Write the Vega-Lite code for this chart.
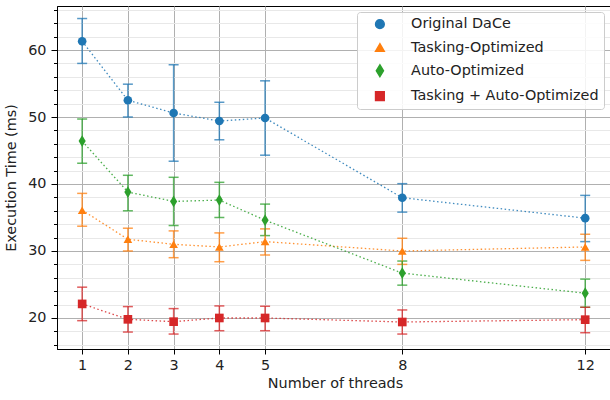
{
  "$schema": "https://vega.github.io/schema/vega-lite/v6.json",
  "width": 556,
  "height": 343,
  "autosize": {"type": "none"},
  "padding": {"left": 57, "top": 6, "right": 0, "bottom": 51},
  "config": {
    "font": "DejaVu Sans",
    "view": {"stroke": "black", "strokeWidth": 1},
    "axis": {
      "labelFont": "DejaVu Sans",
      "titleFont": "DejaVu Sans",
      "labelFontSize": 14.4,
      "titleFontSize": 14.4,
      "titleFontWeight": "normal",
      "labelColor": "#222",
      "titleColor": "#222",
      "domainColor": "black",
      "tickColor": "black",
      "labelPadding": 4,
      "gridColor": "#b0b0b0",
      "gridWidth": 1
    },
    "legend": {
      "labelFont": "DejaVu Sans",
      "labelFontSize": 14.4,
      "labelColor": "#222"
    }
  },
  "data": {
    "values": [
      {"threads": 1, "version": "Original DaCe", "time": 61.3, "lo": 58.0, "hi": 64.7},
      {"threads": 2, "version": "Original DaCe", "time": 52.5, "lo": 50.0, "hi": 54.9},
      {"threads": 3, "version": "Original DaCe", "time": 50.6, "lo": 43.4, "hi": 57.8},
      {"threads": 4, "version": "Original DaCe", "time": 49.4, "lo": 46.6, "hi": 52.2},
      {"threads": 5, "version": "Original DaCe", "time": 49.85, "lo": 44.3, "hi": 55.4},
      {"threads": 8, "version": "Original DaCe", "time": 37.95, "lo": 35.8, "hi": 40.05},
      {"threads": 12, "version": "Original DaCe", "time": 34.9, "lo": 31.4, "hi": 38.3},
      {"threads": 1, "version": "Tasking-Optimized", "time": 36.1, "lo": 33.7, "hi": 38.6},
      {"threads": 2, "version": "Tasking-Optimized", "time": 31.75, "lo": 30.0, "hi": 33.4},
      {"threads": 3, "version": "Tasking-Optimized", "time": 31.0, "lo": 29.0, "hi": 33.0},
      {"threads": 4, "version": "Tasking-Optimized", "time": 30.6, "lo": 28.4, "hi": 32.7},
      {"threads": 5, "version": "Tasking-Optimized", "time": 31.4, "lo": 29.4, "hi": 33.3},
      {"threads": 8, "version": "Tasking-Optimized", "time": 30.0, "lo": 28.0, "hi": 31.9},
      {"threads": 12, "version": "Tasking-Optimized", "time": 30.6, "lo": 28.6, "hi": 32.5},
      {"threads": 1, "version": "Auto-Optimized", "time": 46.4, "lo": 43.1, "hi": 49.7},
      {"threads": 2, "version": "Auto-Optimized", "time": 38.8, "lo": 36.0, "hi": 41.3},
      {"threads": 3, "version": "Auto-Optimized", "time": 37.4, "lo": 33.8, "hi": 41.0},
      {"threads": 4, "version": "Auto-Optimized", "time": 37.6, "lo": 35.0, "hi": 40.25},
      {"threads": 5, "version": "Auto-Optimized", "time": 34.6, "lo": 32.3, "hi": 37.0},
      {"threads": 8, "version": "Auto-Optimized", "time": 26.7, "lo": 24.9, "hi": 28.5},
      {"threads": 12, "version": "Auto-Optimized", "time": 23.7, "lo": 21.6, "hi": 25.8},
      {"threads": 1, "version": "Tasking + Auto-Optimized", "time": 22.1, "lo": 19.6, "hi": 24.6},
      {"threads": 2, "version": "Tasking + Auto-Optimized", "time": 19.8, "lo": 17.9, "hi": 21.7},
      {"threads": 3, "version": "Tasking + Auto-Optimized", "time": 19.45, "lo": 17.6, "hi": 21.4},
      {"threads": 4, "version": "Tasking + Auto-Optimized", "time": 20.0, "lo": 18.1, "hi": 21.8},
      {"threads": 5, "version": "Tasking + Auto-Optimized", "time": 20.0, "lo": 18.1, "hi": 21.75},
      {"threads": 8, "version": "Tasking + Auto-Optimized", "time": 19.4, "lo": 17.6, "hi": 21.2},
      {"threads": 12, "version": "Tasking + Auto-Optimized", "time": 19.75, "lo": 17.8, "hi": 21.6}
    ]
  },
  "encoding": {
    "x": {
      "field": "threads",
      "type": "quantitative",
      "scale": {"domain": [0.45, 12.608], "nice": false, "zero": false},
      "axis": {
        "values": [1, 2, 3, 4, 5, 8, 12],
        "title": "Number of threads",
        "tickSize": 5,
        "titlePadding": 5,
        "grid": true
      }
    },
    "y": {
      "field": "time",
      "type": "quantitative",
      "scale": {"domain": [15.37, 66.57], "nice": false, "zero": false},
      "axis": {
        "values": [16, 18, 20, 22, 24, 26, 28, 30, 32, 34, 36, 38, 40, 42, 44, 46, 48, 50, 52, 54, 56, 58, 60, 62, 64, 66],
        "labelExpr": "datum.value % 10 === 0 ? datum.label : ''",
        "title": "Execution Time (ms)",
        "titlePadding": 9,
        "labelPadding": 5,
        "tickSize": {"condition": {"test": "datum.value % 10 === 0", "value": 6}, "value": 3.5},
        "gridColor": {"condition": {"test": "datum.value % 10 === 0", "value": "#b0b0b0"}, "value": "#e8e8e8"}
      }
    },
    "color": {
      "field": "version",
      "type": "nominal",
      "scale": {
        "domain": ["Original DaCe", "Tasking-Optimized", "Auto-Optimized", "Tasking + Auto-Optimized"],
        "range": ["#1f77b4", "#ff7f0e", "#2ca02c", "#d62728"]
      },
      "legend": {
        "title": null,
        "orient": "none",
        "legendX": 300,
        "legendY": 6,
        "fillColor": "rgba(255,255,255,0.85)",
        "strokeColor": "#cccccc",
        "cornerRadius": 3,
        "padding": 5,
        "rowPadding": 7.3,
        "symbolSize": 75,
        "symbolOffset": 10.7,
        "symbolOpacity": 1,
        "labelOffset": 24,
        "labelLimit": 0,
        "offset": 0
      }
    }
  },
  "layer": [
    {
      "mark": {"type": "line", "strokeDash": [1.5, 2.5], "strokeWidth": 1.3, "opacity": 0.85}
    },
    {
      "mark": {"type": "errorbar", "ticks": {"size": 10}, "thickness": 1.5, "opacity": 0.75},
      "encoding": {
        "y": {"field": "lo", "type": "quantitative", "title": "Execution Time (ms)"},
        "y2": {"field": "hi"}
      }
    },
    {
      "mark": {"type": "point", "filled": true, "opacity": 1, "size": 75},
      "encoding": {
        "shape": {
          "field": "version",
          "type": "nominal",
          "scale": {
            "domain": ["Original DaCe", "Tasking-Optimized", "Auto-Optimized", "Tasking + Auto-Optimized"],
            "range": ["circle", "triangle-up", "M0,-1.35L0.82,0L0,1.35L-0.82,0Z", "square"]
          },
          "legend": {
            "title": null,
            "orient": "none",
            "legendX": 300,
            "legendY": 6,
            "fillColor": "rgba(255,255,255,0.85)",
            "strokeColor": "#cccccc",
            "cornerRadius": 3,
            "padding": 5,
            "rowPadding": 7.3,
            "symbolSize": 75,
            "symbolOffset": 10.7,
            "symbolOpacity": 1,
            "labelOffset": 24,
            "labelLimit": 0,
            "offset": 0
          }
        }
      }
    }
  ]
}
